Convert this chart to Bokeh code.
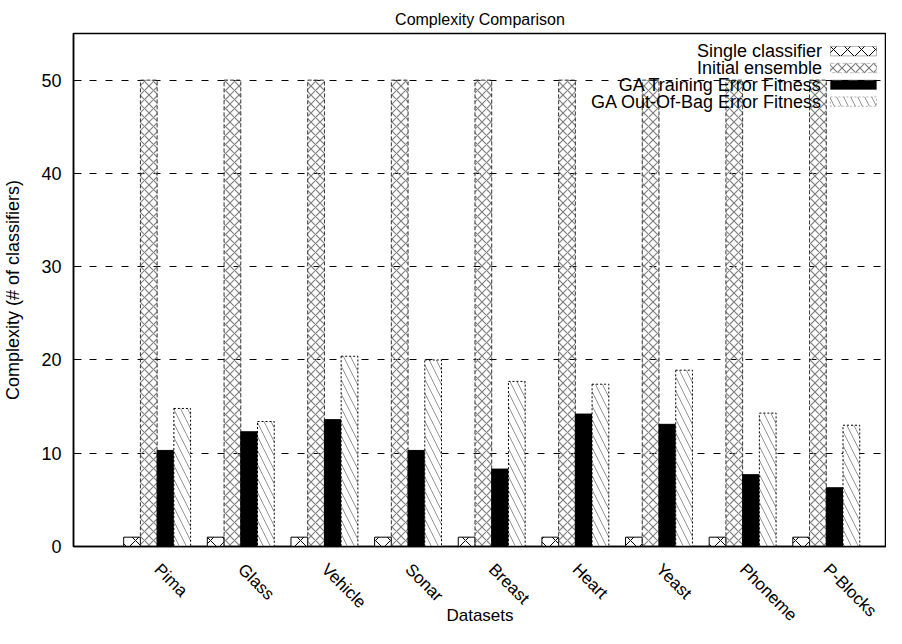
import math
from bokeh.plotting import figure
from bokeh.models import ColumnDataSource, FixedTicker, Range1d, BoxAnnotation, Label
from bokeh.transform import dodge
from bokeh.embed import file_html
from bokeh.resources import INLINE

# ---- data ----
datasets = ["Pima", "Glass", "Vehicle", "Sonar", "Breast", "Heart", "Yeast", "Phoneme", "P-Blocks"]
single_classifier = [1, 1, 1, 1, 1, 1, 1, 1, 1]
initial_ensemble = [50, 50, 50, 50, 50, 50, 50, 50, 50]
ga_training = [10.3, 12.3, 13.6, 10.3, 8.3, 14.2, 13.1, 7.7, 6.3]
ga_oob = [14.8, 13.4, 20.4, 20.0, 17.7, 17.4, 18.9, 14.3, 13.0]
series_names = ["Single classifier", "Initial ensemble", "GA Training Error Fitness", "GA Out-Of-Bag Error Fitness"]
y_ticks = [0, 10, 20, 30, 40, 50]

FONT = "Liberation Sans"

src = ColumnDataSource(dict(
    x=list(range(len(datasets))),
    single=single_classifier,
    initial=initial_ensemble,
    ga=ga_training,
    oob=ga_oob,
))

p = figure(width=886, height=628, output_backend="svg", toolbar_location=None,
           x_range=Range1d(-1, 8.72), y_range=Range1d(0, 55),
           title="Complexity Comparison",
           min_border_left=73, min_border_right=0, min_border_bottom=78, min_border_top=33)

p.title.align = "center"
p.title.text_font = FONT
p.title.text_font_size = "16px"
p.title.text_font_style = "normal"
p.title.text_color = "black"
p.title.standoff = 12

p.outline_line_color = "black"
p.outline_line_width = 1.5
p.background_fill_color = "white"
p.border_fill_color = "white"

W = 0.2
# Single classifier: white with big X cross
p.vbar(x=dodge("x", -0.3, range=p.x_range), top="single", width=W, source=src,
       fill_color="white", line_color="black", line_width=1,
       hatch_pattern="x", hatch_scale=15, hatch_color="black", hatch_weight=1)
# Initial ensemble: gray diamonds, transparent
p.vbar(x=dodge("x", -0.1, range=p.x_range), top="initial", width=W, source=src,
       fill_alpha=0, line_color="#333333", line_width=1, line_dash="4 2",
       hatch_pattern="x", hatch_scale=9, hatch_color="#808080", hatch_weight=1.2)
# GA training: solid black
p.vbar(x=dodge("x", 0.1, range=p.x_range), top="ga", width=W, source=src,
       fill_color="black", line_color="black", line_width=1)
# GA OOB: white with sparse back-diagonal lines, dotted border
p.vbar(x=dodge("x", 0.3, range=p.x_range), top="oob", width=W, source=src,
       fill_color="white", line_color="black", line_width=1, line_dash="2 2",
       hatch_pattern="left_diagonal_line", hatch_scale=14, hatch_color="#666666", hatch_weight=0.7)

# grid
p.xgrid.visible = False
p.ygrid.ticker = FixedTicker(ticks=y_ticks[1:])
p.ygrid.grid_line_color = "black"
p.ygrid.grid_line_dash = "7 9"
p.ygrid.grid_line_width = 1.2

# y axis
p.yaxis.ticker = FixedTicker(ticks=y_ticks)
p.yaxis.axis_label = "Complexity (# of classifiers)"
p.yaxis.axis_label_text_font = FONT
p.yaxis.axis_label_text_font_size = "18px"
p.yaxis.axis_label_text_font_style = "normal"
p.yaxis.axis_label_text_color = "black"
p.yaxis.axis_label_standoff = 15
p.yaxis.major_label_text_font = FONT
p.yaxis.major_label_text_font_size = "18px"
p.yaxis.major_label_text_color = "black"
p.yaxis.major_tick_in = 8
p.yaxis.major_tick_out = 0
p.yaxis.minor_tick_line_color = None
p.yaxis.axis_line_width = 1.5
p.yaxis.major_label_standoff = 12

# x axis
p.xaxis.ticker = FixedTicker(ticks=list(range(len(datasets))))
p.xaxis.major_label_overrides = {i: n for i, n in enumerate(datasets)}
p.xaxis.major_label_orientation = -math.pi / 4
p.xaxis.major_label_text_font = FONT
p.xaxis.major_label_text_font_size = "17px"
p.xaxis.major_label_text_color = "black"
p.xaxis.major_tick_in = 0
p.xaxis.major_tick_out = 0
p.xaxis.minor_tick_line_color = None
p.xaxis.axis_line_width = 1.5
p.xaxis.major_label_standoff = 20
p.xaxis.axis_label = "Datasets"
p.xaxis.axis_label_text_font = FONT
p.xaxis.axis_label_text_font_size = "17px"
p.xaxis.axis_label_text_font_style = "normal"
p.xaxis.axis_label_text_color = "black"
p.xaxis.axis_label_standoff = -28

# ---- key (gnuplot style: text then sample), placed in data space ----
key_text_x = 7.95
key_box_left, key_box_right = 8.05, 8.6
key_rows_y = [53.1, 51.3, 49.5, 47.7]
key_half_h = 0.5
key_styles = [
    dict(fill_color="white", fill_alpha=1, line_color="black", line_dash="solid",
         hatch_pattern="x", hatch_scale=14, hatch_color="black", hatch_weight=1),
    dict(fill_color="white", fill_alpha=1, line_color="#333333", line_dash="4 2",
         hatch_pattern="x", hatch_scale=9, hatch_color="#808080", hatch_weight=1.2),
    dict(fill_color="black", fill_alpha=1, line_color="black", line_dash="solid",
         hatch_pattern=None),
    dict(fill_color="white", fill_alpha=1, line_color="black", line_dash="2 2",
         hatch_pattern="left_diagonal_line", hatch_scale=14, hatch_color="#666666", hatch_weight=0.7),
]
for name, yy, st in zip(series_names, key_rows_y, key_styles):
    p.add_layout(Label(x=key_text_x, y=yy, text=name, text_align="right", text_baseline="middle",
                       text_font=FONT, text_font_size="18px", text_color="black"))
    p.add_layout(BoxAnnotation(left=key_box_left, right=key_box_right,
                               bottom=yy - key_half_h, top=yy + key_half_h,
                               line_width=1, level="overlay", **st))

open("out.html", "w").write(file_html(p, INLINE))
